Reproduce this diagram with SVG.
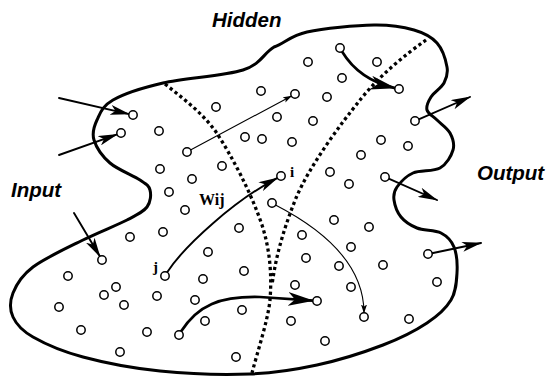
<svg xmlns="http://www.w3.org/2000/svg" width="548" height="378" viewBox="0 0 548 378">
<style>
.n circle{fill:#fff;stroke:#000;stroke-width:1.5}
.blob{fill:none;stroke:#000;stroke-width:3;stroke-linejoin:round}
.dot{fill:none;stroke:#000;stroke-width:3.3;stroke-dasharray:3.2 3}
.c{fill:none;stroke:#000;stroke-linecap:round}
.thick{stroke-width:2.7}
.med{stroke-width:1.9}
.thin{stroke-width:1.1}
.lab{font-family:"Liberation Sans",Arial,sans-serif;font-weight:bold;font-style:italic;font-size:20.5px}
.ser{font-family:"Liberation Serif","Times New Roman",serif;font-weight:bold}
</style>
<defs>
<marker id="aBig" markerUnits="userSpaceOnUse" markerWidth="26" markerHeight="14" viewBox="0 0 26 14" refX="25" refY="7" orient="auto"><path d="M0,0 L26,7 L0,14 L7,7 Z"/></marker>
<marker id="aMed" markerUnits="userSpaceOnUse" markerWidth="20" markerHeight="10" viewBox="0 0 20 10" refX="19" refY="5" orient="auto"><path d="M0,0 L20,5 L0,10 L5,5 Z"/></marker>
<marker id="aSm" markerUnits="userSpaceOnUse" markerWidth="9" markerHeight="6" viewBox="0 0 9 6" refX="8.5" refY="3" orient="auto"><path d="M0,0 L9,3 L0,6 L2,3 Z"/></marker>
</defs>
<rect width="548" height="378" fill="#fff"/>
<path class="blob" d="M274,47 C263.3,53.3 261.5,64 243,70 C224.5,76 184.7,78 163,83 C141.3,88 124,93.8 113,100 C102,106.2 100.2,113.3 97,120 C93.8,126.7 91.8,132.8 94,140 C96.2,147.2 102.3,156.3 110,163 C117.7,169.7 133.3,175.5 140,180 C146.7,184.5 148.8,185.5 150,190 C151.2,194.5 150.8,202 147,207 C143.2,212 137.7,214.5 127,220 C116.3,225.5 98.7,232.2 83,240 C67.3,247.8 44.7,258.2 33,267 C21.3,275.8 16.3,284.7 13,293 C9.7,301.3 9.7,309.7 13,317 C16.3,324.3 21.3,330.3 33,337 C44.7,343.7 61.8,351.3 83,357 C104.2,362.7 132.2,368.2 160,371 C187.8,373.8 223.8,375 250,374 C276.2,373 294.8,369.8 317,365 C339.2,360.2 364.7,352 383,345 C401.3,338 415.7,330.5 427,323 C438.3,315.5 446,308.3 451,300 C456,291.7 456.5,281.8 457,273 C457.5,264.2 456.7,253.7 454,247 C451.3,240.3 447.2,236.2 441,233 C434.8,229.8 423.7,230.7 417,228 C410.3,225.3 404.8,221.7 401,217 C397.2,212.3 394.7,205 394,200 C393.3,195 393.8,191.5 397,187 C400.2,182.5 405.8,176.2 413,173 C420.2,169.8 433.3,171.8 440,168 C446.7,164.2 451.3,155.8 453,150 C454.7,144.2 452.7,138 450,133 C447.3,128 440.8,123.8 437,120 C433.2,116.2 428,113.8 427,110 C426,106.2 428.2,101.5 431,97 C433.8,92.5 441.3,88 444,83 C446.7,78 448.2,73.7 447,67 C445.8,60.3 442.5,49.2 437,43 C431.5,36.8 424.5,33 414,30 C403.5,27 391.8,24.7 374,25 C356.2,25.3 323.7,28.3 307,32 C290.3,35.7 284.7,43.3 274,47 Z"/>
<g id="layers">
<path class="dot" d="M165,84 C185,100 205,115 218,135 C232,157 250,190 262,225 C270,250 272,275 270,300 C268,320 258,350 252,373"/>
<path class="dot" d="M426,40 C405,55 380,75 360,100 C340,125 310,165 296,198 C284,228 276,255 272,285"/>
</g>
<g id="connectors">
<path class="c med" d="M59,98 L129.1,114.1" marker-end="url(#aMed)"/>
<path class="c med" d="M59,155 L117.2,134.3" marker-end="url(#aMed)"/>
<path class="c med" d="M74,213 L100,256.6" marker-end="url(#aMed)"/>
<path class="c thin" d="M190.5,150.1 L291.5,95.9" marker-end="url(#aSm)"/>
<path class="c thick" d="M342,51.5 C352,68 368,82 395.1,88.1" marker-end="url(#aBig)"/>
<path class="c med" d="M167,272.5 C185,245 235,200 277.5,177.9" marker-end="url(#aMed)"/>
<path class="c thin" d="M275.5,205 C320,228 364,262 364,313" marker-end="url(#aSm)"/>
<path class="c thick" d="M181,331.5 C198,305 220,296 260,297 L313,300.7" marker-end="url(#aBig)"/>
<path class="c med" d="M418.7,119.4 L470,97" marker-end="url(#aMed)"/>
<path class="c med" d="M388.7,178.6 L437,200" marker-end="url(#aMed)"/>
<path class="c med" d="M431.9,253.2 L481,243" marker-end="url(#aMed)"/>
</g>
<g class="n">
<g id="n1"><circle cx="133" cy="115" r="4.2"/></g>
<g id="n2"><circle cx="121" cy="133" r="4.2"/></g>
<g id="n3"><circle cx="159" cy="131" r="4.2"/></g>
<g id="n4"><circle cx="187" cy="152" r="4.2"/></g>
<g id="n5"><circle cx="160" cy="169" r="4.2"/></g>
<g id="n6"><circle cx="192" cy="179" r="4.2"/></g>
<g id="n7"><circle cx="222" cy="166" r="4.2"/></g>
<g id="n8"><circle cx="216" cy="107" r="4.2"/></g>
<g id="n9"><circle cx="261" cy="91" r="4.2"/></g>
<g id="n10"><circle cx="295" cy="94" r="4.2"/></g>
<g id="n11"><circle cx="277" cy="117" r="4.2"/></g>
<g id="n12"><circle cx="245" cy="137" r="4.2"/></g>
<g id="n13"><circle cx="262" cy="139" r="4.2"/></g>
<g id="n14"><circle cx="292" cy="142" r="4.2"/></g>
<g id="n15"><circle cx="281" cy="176" r="4.2"/></g>
<g id="n16"><circle cx="340" cy="48" r="4.2"/></g>
<g id="n17"><circle cx="308" cy="62" r="4.2"/></g>
<g id="n18"><circle cx="377" cy="62" r="4.2"/></g>
<g id="n19"><circle cx="342" cy="78" r="4.2"/></g>
<g id="n20"><circle cx="399" cy="89" r="4.2"/></g>
<g id="n21"><circle cx="327" cy="97" r="4.2"/></g>
<g id="n22"><circle cx="313" cy="121" r="4.2"/></g>
<g id="n23"><circle cx="415" cy="121" r="4.2"/></g>
<g id="n24"><circle cx="381" cy="140" r="4.2"/></g>
<g id="n25"><circle cx="408" cy="146" r="4.2"/></g>
<g id="n26"><circle cx="361" cy="155" r="4.2"/></g>
<g id="n27"><circle cx="330" cy="172" r="4.2"/></g>
<g id="n28"><circle cx="349" cy="184" r="4.2"/></g>
<g id="n29"><circle cx="385" cy="177" r="4.2"/></g>
<g id="n30"><circle cx="334" cy="220" r="4.2"/></g>
<g id="n31"><circle cx="369" cy="227" r="4.2"/></g>
<g id="n32"><circle cx="351" cy="247" r="4.2"/></g>
<g id="n33"><circle cx="302" cy="235" r="4.2"/></g>
<g id="n34"><circle cx="428" cy="254" r="4.2"/></g>
<g id="n35"><circle cx="306" cy="258" r="4.2"/></g>
<g id="n36"><circle cx="272" cy="203" r="4.2"/></g>
<g id="n37"><circle cx="339" cy="266" r="4.2"/></g>
<g id="n38"><circle cx="383" cy="265" r="4.2"/></g>
<g id="n39"><circle cx="437" cy="282" r="4.2"/></g>
<g id="n40"><circle cx="295" cy="285" r="4.2"/></g>
<g id="n41"><circle cx="351" cy="287" r="4.2"/></g>
<g id="n42"><circle cx="317" cy="301" r="4.2"/></g>
<g id="n43"><circle cx="364" cy="317" r="4.2"/></g>
<g id="n44"><circle cx="409" cy="319" r="4.2"/></g>
<g id="n45"><circle cx="291" cy="321" r="4.2"/></g>
<g id="n46"><circle cx="325" cy="341" r="4.2"/></g>
<g id="n47"><circle cx="169" cy="192" r="4.2"/></g>
<g id="n48"><circle cx="185" cy="210" r="4.2"/></g>
<g id="n49"><circle cx="130" cy="237" r="4.2"/></g>
<g id="n50"><circle cx="163" cy="232" r="4.2"/></g>
<g id="n51"><circle cx="239" cy="228" r="4.2"/></g>
<g id="n52"><circle cx="102" cy="260" r="4.2"/></g>
<g id="n53"><circle cx="68" cy="276" r="4.2"/></g>
<g id="n54"><circle cx="165" cy="276" r="4.2"/></g>
<g id="n55"><circle cx="208" cy="252" r="4.2"/></g>
<g id="n56"><circle cx="244" cy="271" r="4.2"/></g>
<g id="n57"><circle cx="203" cy="279" r="4.2"/></g>
<g id="n58"><circle cx="116" cy="287" r="4.2"/></g>
<g id="n59"><circle cx="104" cy="295" r="4.2"/></g>
<g id="n60"><circle cx="157" cy="296" r="4.2"/></g>
<g id="n61"><circle cx="124" cy="305" r="4.2"/></g>
<g id="n62"><circle cx="195" cy="300" r="4.2"/></g>
<g id="n63"><circle cx="59" cy="307" r="4.2"/></g>
<g id="n64"><circle cx="205" cy="321" r="4.2"/></g>
<g id="n65"><circle cx="242" cy="310" r="4.2"/></g>
<g id="n66"><circle cx="81" cy="330" r="4.2"/></g>
<g id="n67"><circle cx="147" cy="332" r="4.2"/></g>
<g id="n68"><circle cx="179" cy="335" r="4.2"/></g>
<g id="n69"><circle cx="120" cy="352" r="4.2"/></g>
<g id="n70"><circle cx="236" cy="357" r="4.2"/></g>
</g>
<g id="labels">
<text class="lab" x="212" y="27">Hidden</text>
<text class="lab" x="477" y="180">Output</text>
<text class="lab" x="11" y="197">Input</text>
<text class="ser" x="199" y="205" font-size="16">Wij</text>
<text class="ser" x="290" y="177" font-size="15">i</text>
<text class="ser" x="153" y="272" font-size="15">j</text>
</g>
</svg>
